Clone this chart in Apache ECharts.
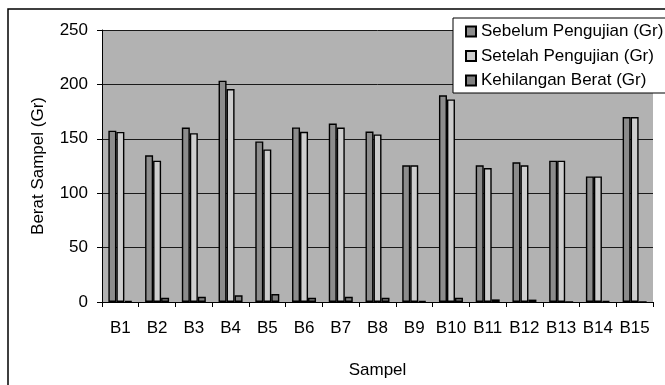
<!DOCTYPE html>
<html>
<head>
<meta charset="utf-8">
<script src="https://cdn.jsdelivr.net/npm/echarts@6/dist/echarts.min.js"></script>
<style>
html,body{margin:0;padding:0;background:#fff;}
#chart{width:665px;height:385px;}
</style>
</head>
<body>
<div id="chart"></div>
<script>
var categories = ['B1','B2','B3','B4','B5','B6','B7','B8','B9','B10','B11','B12','B13','B14','B15'];
var sebelum = [157.5, 134.8, 160.4, 203.4, 147.6, 160.5, 164.0, 156.7, 125.7, 190.0, 125.7, 128.4, 129.9, 115.4, 170.0];
var setelah = [156.3, 129.9, 155.2, 195.7, 140.2, 156.5, 160.4, 154.0, 125.7, 186.2, 123.1, 125.7, 129.9, 115.4, 170.0];
var kehilangan = [1.0, 3.8, 4.8, 6.2, 7.3, 3.8, 4.8, 3.8, 0.8, 3.8, 2.4, 2.2, 0, 0.8, 0];
var seriesNames = ['Sebelum Pengujian (Gr)', 'Setelah Pengujian (Gr)', 'Kehilangan Berat (Gr)'];
var yTicks = [0, 50, 100, 150, 200, 250];

var FONT = 'Liberation Sans, Arial, sans-serif';
var chart = echarts.init(document.getElementById('chart'), null, {renderer: 'canvas'});
function barSeries(name, data, color) {
  return {
    name: name, type: 'bar', data: data,
    barWidth: 8, barGap: '0%',
    itemStyle: {color: color, borderColor: '#000', borderWidth: 1.4},
    emphasis: {disabled: true}
  };
}
chart.setOption({
  animation: false,
  backgroundColor: '#fff',
  textStyle: {fontFamily: FONT},
  graphic: [
    {type: 'rect', z: 0, shape: {x: 8, y: 9, width: 720, height: 420},
     style: {fill: 'none', stroke: '#000', lineWidth: 1.5}},
    {type: 'rect', z: 50, shape: {x: 453, y: 18, width: 260, height: 75},
     style: {fill: '#fff', stroke: '#000', lineWidth: 1}}
  ],
  legend: {
    z: 60,
    orient: 'vertical',
    left: 465, top: 23,
    padding: 0,
    icon: 'rect',
    itemWidth: 10, itemHeight: 10,
    itemGap: 7.5,
    data: seriesNames,
    textStyle: {fontSize: 17, fontFamily: FONT, color: '#000', lineHeight: 17}
  },
  grid: {left: 102, right: 12, top: 30, bottom: 83, show: true, backgroundColor: '#b2b2b2', borderWidth: 0},
  xAxis: {
    type: 'category', data: categories,
    name: 'Sampel', nameLocation: 'middle', nameGap: 60,
    nameTextStyle: {fontSize: 17, color: '#000', fontFamily: FONT},
    axisLine: {lineStyle: {color: '#000', width: 1}},
    axisTick: {show: true, length: 5, lineStyle: {color: '#000'}},
    axisLabel: {fontSize: 17, color: '#000', margin: 18, fontFamily: FONT, interval: 0}
  },
  yAxis: {
    type: 'value', min: yTicks[0], max: yTicks[yTicks.length - 1], interval: 50,
    name: 'Berat Sampel (Gr)', nameLocation: 'middle', nameGap: 55,
    nameTextStyle: {fontSize: 17, color: '#000', fontFamily: FONT},
    axisLine: {show: true, lineStyle: {color: '#000', width: 1}},
    axisTick: {show: true, length: 5, lineStyle: {color: '#000'}},
    axisLabel: {fontSize: 17, color: '#000', margin: 14, fontFamily: FONT},
    splitLine: {show: true, lineStyle: {color: '#1a1a1a', width: 1}}
  },
  series: [
    barSeries(seriesNames[0], sebelum, '#8c8c8c'),
    barSeries(seriesNames[1], setelah, '#cdcdcd'),
    barSeries(seriesNames[2], kehilangan, '#808080')
  ]
});
</script>
</body>
</html>
